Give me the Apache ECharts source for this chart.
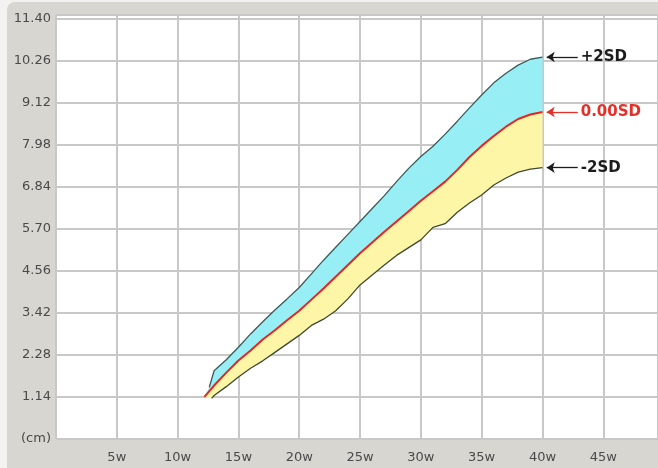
<!DOCTYPE html>
<html>
<head>
<meta charset="utf-8">
<script src="https://cdn.jsdelivr.net/npm/echarts@6/dist/echarts.min.js"></script>
<style>
html,body{margin:0;padding:0;background:#f3f2f0;}
#c{width:658px;height:468px;}
</style>
</head>
<body>
<div id="c"></div>
<script>
// ---- data ----
const upperWeeks = [12.6,13,14,15,16,17,18,19,20,21,22,23,24,25,26,27,28,29,30,31,32,33,34,35,36,37,38,39,40];
const upperVals  = [1.40,1.85,2.15,2.49,2.85,3.18,3.50,3.80,4.11,4.48,4.85,5.20,5.55,5.90,6.25,6.60,6.98,7.34,7.66,7.94,8.27,8.62,8.98,9.33,9.66,9.92,10.14,10.30,10.36];

const midWeeks = [12.2,13,14,15,16,17,18,19,20,21,22,23,24,25,26,27,28,29,30,31,32,33,34,35,36,37,38,39,40];
const midVals  = [1.14,1.45,1.80,2.13,2.40,2.70,2.95,3.22,3.48,3.78,4.08,4.40,4.72,5.04,5.33,5.62,5.90,6.18,6.46,6.72,6.98,7.30,7.65,7.95,8.22,8.47,8.68,8.80,8.87];

const lowerWeeks = [12.8,13,14,15,16,17,18,19,20,21,22,23,24,25,26,27,28,29,30,31,32,33,34,35,36,37,38,39,40];
const lowerVals  = [1.10,1.18,1.42,1.68,1.92,2.12,2.35,2.58,2.81,3.08,3.25,3.48,3.80,4.18,4.45,4.72,4.98,5.19,5.40,5.74,5.84,6.15,6.40,6.62,6.89,7.08,7.24,7.32,7.36];

const yTickLabels = ['(cm)','1.14','2.28','3.42','4.56','5.70','6.84','7.98','9.12','10.26','11.40'];
const xTickLabels = ['','5w','10w','15w','20w','25w','30w','35w','40w','45w'];
const seriesNames = ['+2SD','0.00SD','-2SD'];

// ---- build ----
const zip = (xs, ys) => xs.map((x, i) => [x, ys[i]]);
const upperPts = zip(upperWeeks, upperVals);
const midPts = zip(midWeeks, midVals);
const lowerPts = zip(lowerWeeks, lowerVals);

function band(topPts, botPts, fill) {
  return {
    type: 'custom',
    silent: true,
    z: 1,
    data: [[0, 0]],
    renderItem: function (params, api) {
      const pts = topPts.map(p => api.coord(p))
        .concat(botPts.slice().reverse().map(p => api.coord(p)));
      return { type: 'polygon', shape: { points: pts }, style: { fill: fill } };
    }
  };
}

function curve(name, pts, color, width, labelColor) {
  const last = pts[pts.length - 1];
  return {
    name: name,
    type: 'line',
    data: pts,
    showSymbol: false,
    z: 3,
    lineStyle: { color: color, width: width },
    animation: false,
    markLine: {
      silent: true,
      animation: false,
      symbol: ['arrow', 'none'],
      symbolSize: 8,
      lineStyle: { color: labelColor, width: 1.3, type: 'solid' },
      label: {
        show: true,
        position: 'end',
        distance: 3,
        formatter: name,
        color: labelColor,
        fontFamily: 'DejaVu Sans',
        fontWeight: 'bold',
        fontSize: 15
      },
      data: [[{ coord: [last[0] + 0.35, last[1]] }, { coord: [last[0] + 2.9, last[1]] }]]
    }
  };
}

const chart = echarts.init(document.getElementById('c'), null, { renderer: 'canvas' });
chart.setOption({
  backgroundColor: '#f3f2f0',
  animation: false,
  graphic: {
    elements: [{
      type: 'rect',
      z: -100,
      shape: { x: 7, y: 2, width: 660, height: 470, r: [8, 0, 0, 0] },
      style: { fill: '#d8d6d1' }
    }]
  },
  grid: {
    left: 56, right: 0, top: 15, bottom: 29,
    show: true, backgroundColor: '#ffffff', borderWidth: 0
  },
  xAxis: {
    type: 'value',
    min: 0, max: 49.5, interval: 5,
    axisLine: { show: false },
    axisTick: { show: false },
    splitLine: { show: true, lineStyle: { color: '#c8c8c8', width: 2 } },
    axisLabel: {
      showMaxLabel: false,
      margin: 12,
      color: '#4a4a4a',
      fontFamily: 'DejaVu Sans',
      fontSize: 13,
      formatter: v => xTickLabels[Math.round(v / 5)] || ''
    }
  },
  yAxis: {
    type: 'value',
    min: 0, max: 11.5, interval: 1.14,
    axisLine: { show: false },
    axisTick: { show: false },
    splitLine: { show: true, lineStyle: { color: '#c8c8c8', width: 2 } },
    axisLabel: {
      showMaxLabel: false,
      margin: 5,
      color: '#4a4a4a',
      fontFamily: 'DejaVu Sans',
      fontSize: 13,
      formatter: v => yTickLabels[Math.round(v / 1.14)] || ''
    }
  },
  series: [
    band(upperPts, midPts, '#98eef5'),
    band(midPts, lowerPts, '#fdf6a6'),
    curve(seriesNames[0], upperPts, '#3c5a58', 1.3, '#1c1c1c'),
    curve(seriesNames[2], lowerPts, '#3e4a36', 1.3, '#1c1c1c'),
    curve(seriesNames[1], midPts, '#e3261f', 2, '#e5302a')
  ]
});
</script>
</body>
</html>
